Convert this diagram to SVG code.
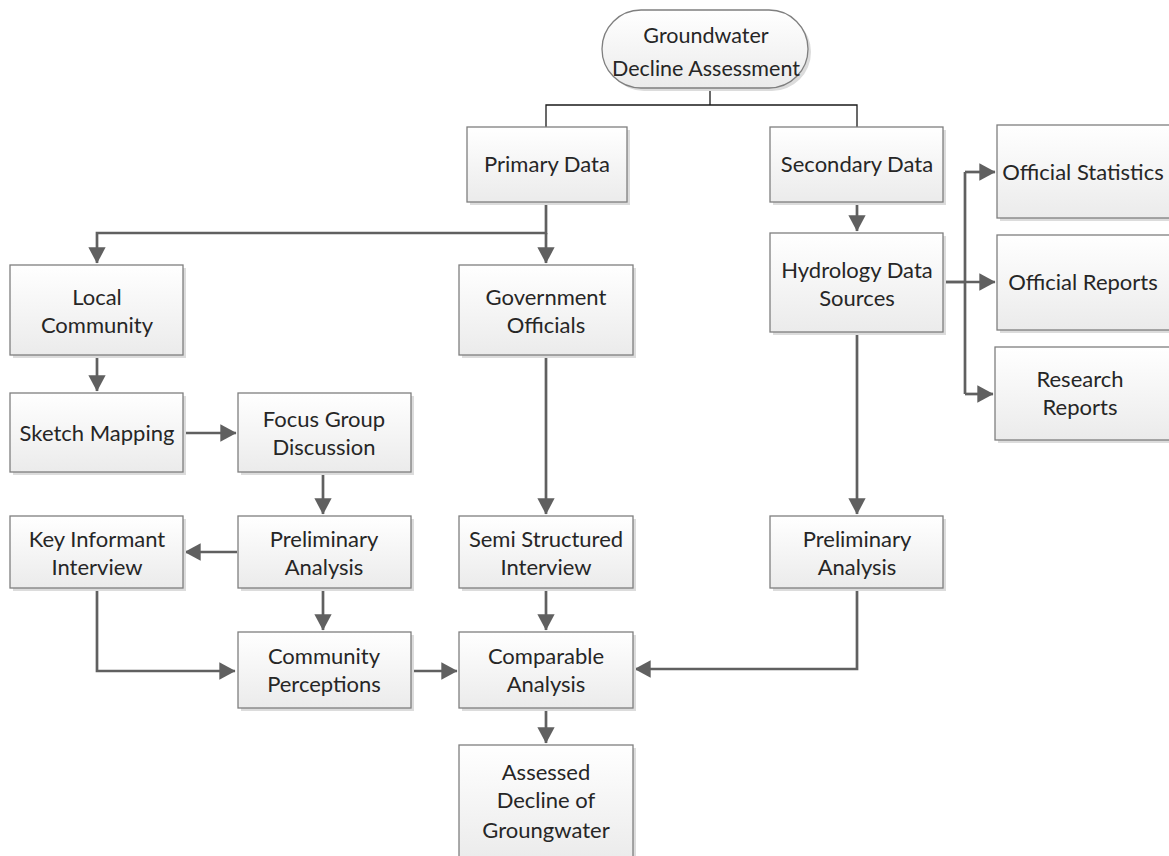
<svg xmlns="http://www.w3.org/2000/svg" width="1169" height="856" viewBox="0 0 1169 856">
<defs>
<linearGradient id="g" x1="0" y1="0" x2="0" y2="1">
<stop offset="0" stop-color="#ffffff"/>
<stop offset="1" stop-color="#ebebeb"/>
</linearGradient>
<marker id="ah" markerWidth="7" markerHeight="7" refX="5.8" refY="3.2" orient="auto" markerUnits="strokeWidth">
<path d="M0,0 L6,3.2 L0,6.4 Z" fill="#606060"/>
</marker>
<style>
.b{fill:url(#g);stroke:#7f7f7f;stroke-width:1.3}
.s{fill:#dcdcdc}
.t{font-family:Lato,"Open Sans","Liberation Sans",sans-serif;font-size:22px;fill:#262626;text-anchor:middle}
.c{fill:none;stroke:#606060;stroke-width:2.7}
.a{marker-end:url(#ah)}
.k{fill:none;stroke:#1a1a1a;stroke-width:1.3}
</style>
</defs>
<rect width="1169" height="856" fill="#ffffff"/>
<g id="connectors">
<path class="k" d="M710,88 V105 M546,127 V105 H857 V127"/>
<path class="c a" d="M546,202 V233 H97 V263"/>
<path class="c a" d="M546,233 V263"/>
<path class="c a" d="M857,202 V231"/>
<path class="c" d="M943,282 H965 M965,172 V394"/>
<path class="c a" d="M965,172 H995"/>
<path class="c a" d="M943,282 H995"/>
<path class="c a" d="M965,394 H993"/>
<path class="c a" d="M97,355 V391"/>
<path class="c a" d="M183,433 H236"/>
<path class="c a" d="M323,472 V514"/>
<path class="c a" d="M237,552 H185"/>
<path class="c a" d="M323,588 V630"/>
<path class="c a" d="M97,588 V671 H235"/>
<path class="c a" d="M410,671 H457"/>
<path class="c a" d="M546,355 V514"/>
<path class="c a" d="M546,588 V630"/>
<path class="c a" d="M857,332 V514"/>
<path class="c a" d="M857,588 V669 H635"/>
<path class="c a" d="M546,708 V743"/>
</g>
<g id="n-start">
<rect class="s" x="605" y="13" width="206" height="78" rx="39"/>
<rect class="b" x="602" y="10" width="206" height="78" rx="39"/>
<text class="t" x="706" y="43" style="font-size:21.5px">Groundwater</text>
<text class="t" x="706" y="76" style="font-size:21.5px">Decline Assessment</text>
</g>
<g id="n-primary">
<rect class="s" x="470" y="130" width="160" height="75"/>
<rect class="b" x="467" y="127" width="160" height="75"/>
<text class="t" x="547" y="172">Primary Data</text>
</g>
<g id="n-secondary">
<rect class="s" x="773" y="130" width="173" height="75"/>
<rect class="b" x="770" y="127" width="173" height="75"/>
<text class="t" x="857" y="172">Secondary Data</text>
</g>
<g id="n-stats">
<rect class="s" x="1000" y="128" width="175" height="93"/>
<rect class="b" x="997" y="125" width="175" height="93"/>
<text class="t" x="1083" y="180">Official Statistics</text>
</g>
<g id="n-offrep">
<rect class="s" x="1000" y="238" width="175" height="95"/>
<rect class="b" x="997" y="235" width="175" height="95"/>
<text class="t" x="1083" y="290">Official Reports</text>
</g>
<g id="n-resrep">
<rect class="s" x="998" y="350" width="175" height="93"/>
<rect class="b" x="995" y="347" width="175" height="93"/>
<text class="t" x="1080" y="387">Research</text>
<text class="t" x="1080" y="415">Reports</text>
</g>
<g id="n-hydro">
<rect class="s" x="773" y="236" width="173" height="99"/>
<rect class="b" x="770" y="233" width="173" height="99"/>
<text class="t" x="857" y="278">Hydrology Data</text>
<text class="t" x="857" y="306">Sources</text>
</g>
<g id="n-local">
<rect class="s" x="13" y="268" width="173" height="90"/>
<rect class="b" x="10" y="265" width="173" height="90"/>
<text class="t" x="97" y="305">Local</text>
<text class="t" x="97" y="333">Community</text>
</g>
<g id="n-gov">
<rect class="s" x="462" y="268" width="174" height="90"/>
<rect class="b" x="459" y="265" width="174" height="90"/>
<text class="t" x="546" y="305">Government</text>
<text class="t" x="546" y="333">Officials</text>
</g>
<g id="n-sketch">
<rect class="s" x="13" y="396" width="173" height="79"/>
<rect class="b" x="10" y="393" width="173" height="79"/>
<text class="t" x="97" y="441">Sketch Mapping</text>
</g>
<g id="n-focus">
<rect class="s" x="241" y="396" width="173" height="79"/>
<rect class="b" x="238" y="393" width="173" height="79"/>
<text class="t" x="324" y="427">Focus Group</text>
<text class="t" x="324" y="455">Discussion</text>
</g>
<g id="n-key">
<rect class="s" x="13" y="519" width="173" height="72"/>
<rect class="b" x="10" y="516" width="173" height="72"/>
<text class="t" x="97" y="547">Key Informant</text>
<text class="t" x="97" y="575">Interview</text>
</g>
<g id="n-prelim1">
<rect class="s" x="241" y="519" width="173" height="72"/>
<rect class="b" x="238" y="516" width="173" height="72"/>
<text class="t" x="324" y="547">Preliminary</text>
<text class="t" x="324" y="575">Analysis</text>
</g>
<g id="n-semi">
<rect class="s" x="462" y="519" width="174" height="72"/>
<rect class="b" x="459" y="516" width="174" height="72"/>
<text class="t" x="546" y="547">Semi Structured</text>
<text class="t" x="546" y="575">Interview</text>
</g>
<g id="n-prelim2">
<rect class="s" x="773" y="519" width="173" height="72"/>
<rect class="b" x="770" y="516" width="173" height="72"/>
<text class="t" x="857" y="547">Preliminary</text>
<text class="t" x="857" y="575">Analysis</text>
</g>
<g id="n-community">
<rect class="s" x="241" y="635" width="173" height="76"/>
<rect class="b" x="238" y="632" width="173" height="76"/>
<text class="t" x="324" y="664">Community</text>
<text class="t" x="324" y="692">Perceptions</text>
</g>
<g id="n-comparable">
<rect class="s" x="462" y="635" width="174" height="76"/>
<rect class="b" x="459" y="632" width="174" height="76"/>
<text class="t" x="546" y="664">Comparable</text>
<text class="t" x="546" y="692">Analysis</text>
</g>
<g id="n-assessed">
<rect class="s" x="462" y="748" width="174" height="115"/>
<rect class="b" x="459" y="745" width="174" height="115"/>
<text class="t" x="546" y="780">Assessed</text>
<text class="t" x="546" y="808">Decline of</text>
<text class="t" x="546" y="838">Groungwater</text>
</g>
</svg>
